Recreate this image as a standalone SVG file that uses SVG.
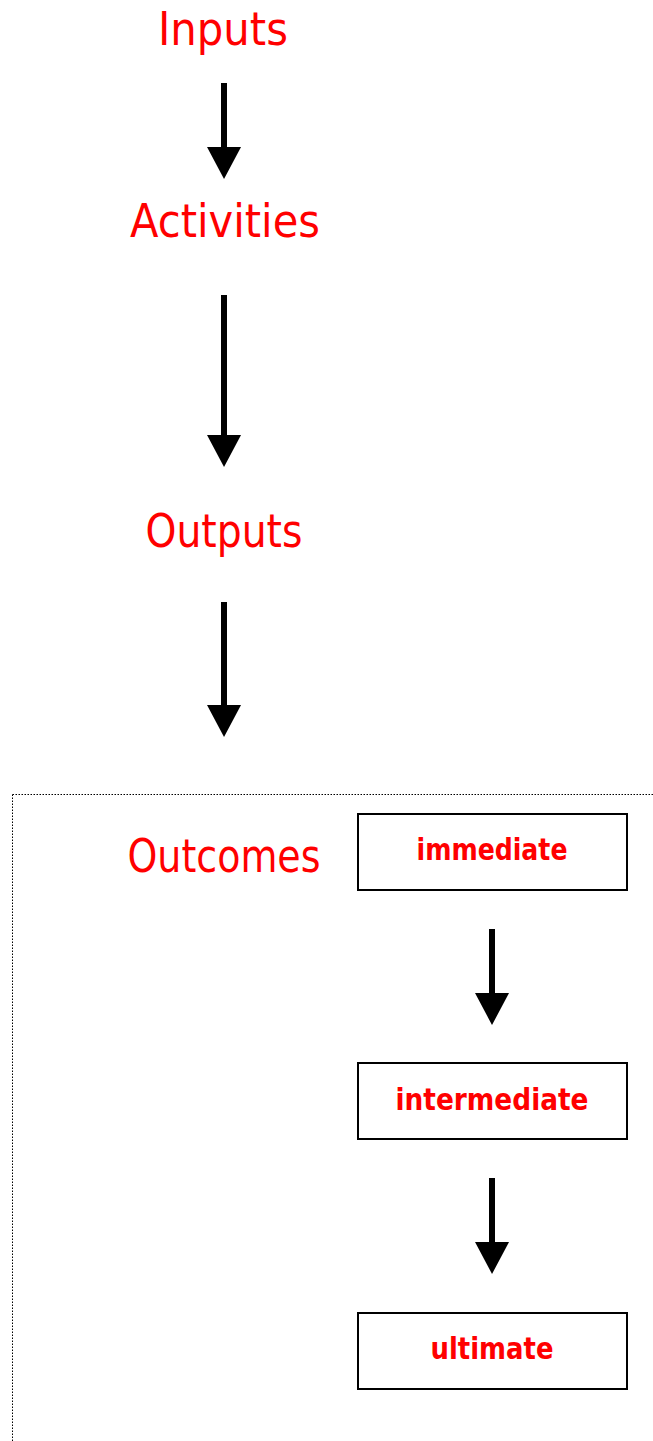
<svg xmlns="http://www.w3.org/2000/svg" width="653" height="1441" viewBox="0 0 653 1441">
<style>
.t{font-family:"DejaVu Sans","Liberation Sans",sans-serif;fill:#ff0000;font-size:46px;text-anchor:middle}
.s{font-family:"DejaVu Sans","Liberation Sans",sans-serif;fill:#ff0000;font-size:30px;font-weight:bold;text-anchor:middle}
.box{fill:#fff;stroke:#000;stroke-width:2}
.shaft{stroke:#000;stroke-width:6}
</style>
<rect width="653" height="1441" fill="#fff"/>
<g id="frame">
<path d="M12.5,794.5 H653 M12.5,794.5 V1441" fill="none" stroke="#000" stroke-width="1" stroke-dasharray="1.5,1.5"/>
</g>
<g id="inputs"><text class="t" x="223" y="45" textLength="130" lengthAdjust="spacingAndGlyphs">Inputs</text></g>
<g id="activities"><text class="t" x="225" y="237" textLength="190" lengthAdjust="spacingAndGlyphs">Activities</text></g>
<g id="outputs"><text class="t" x="224" y="547" textLength="157" lengthAdjust="spacingAndGlyphs">Outputs</text></g>
<g id="outcomes"><text class="t" x="224" y="872" textLength="193" lengthAdjust="spacingAndGlyphs">Outcomes</text></g>
<g id="immediate"><rect class="box" x="358" y="814" width="269" height="76"/><text class="s" x="492" y="860" textLength="151" lengthAdjust="spacingAndGlyphs">immediate</text></g>
<g id="intermediate"><rect class="box" x="358" y="1063" width="269" height="76"/><text class="s" x="492" y="1110" textLength="193" lengthAdjust="spacingAndGlyphs">intermediate</text></g>
<g id="ultimate"><rect class="box" x="358" y="1313" width="269" height="76"/><text class="s" x="492" y="1359" textLength="123" lengthAdjust="spacingAndGlyphs">ultimate</text></g>
<g id="connectors">
<line class="shaft" x1="224" y1="83" x2="224" y2="150"/><polygon points="207,147 241,147 224,179"/>
<line class="shaft" x1="224" y1="295" x2="224" y2="438"/><polygon points="207,435 241,435 224,467"/>
<line class="shaft" x1="224" y1="602" x2="224" y2="708"/><polygon points="207,705 241,705 224,737"/>
<line class="shaft" x1="492" y1="929" x2="492" y2="996"/><polygon points="475,993 509,993 492,1025"/>
<line class="shaft" x1="492" y1="1178" x2="492" y2="1245"/><polygon points="475,1242 509,1242 492,1274"/>
</g>
</svg>
